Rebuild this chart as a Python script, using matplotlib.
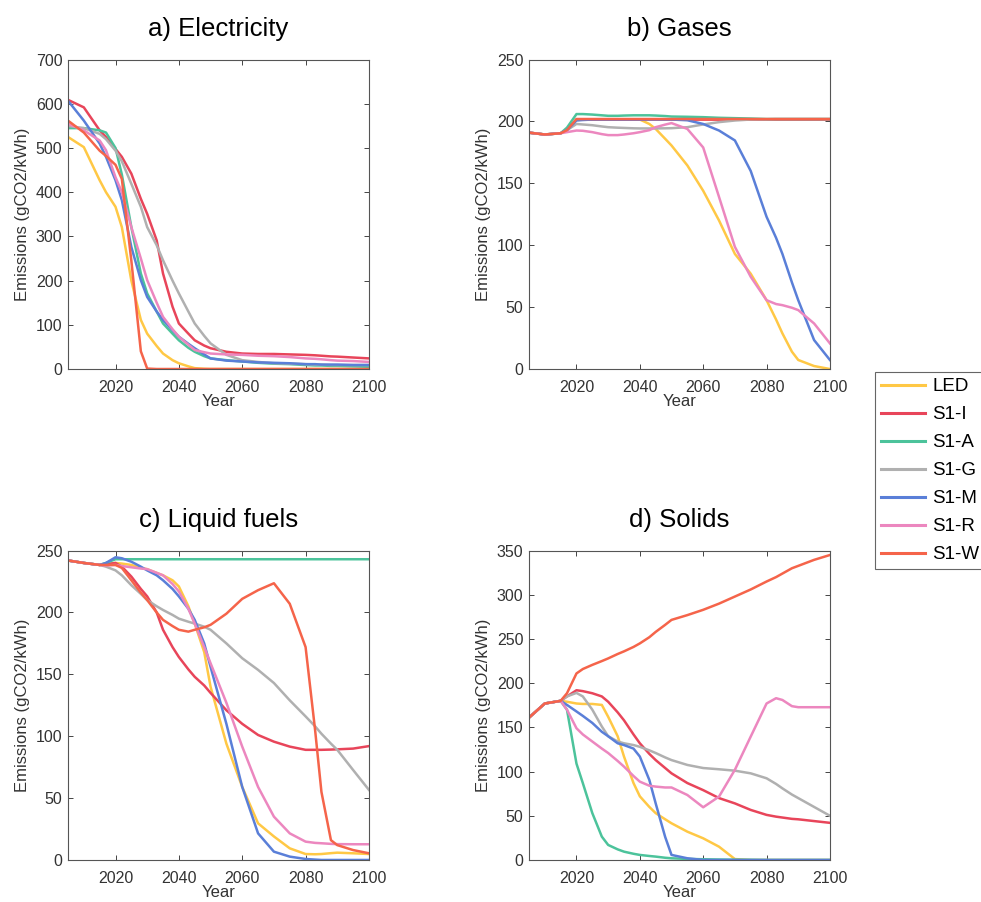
import matplotlib
matplotlib.use("Agg")
import matplotlib.pyplot as plt

plt.rcParams['font.family'] = ['Liberation Sans', 'DejaVu Sans']

# years shared by every series
years = [2005, 2010, 2015, 2017, 2020, 2022, 2025, 2028, 2030, 2033, 2035, 2038,
         2040, 2043, 2045, 2048, 2050, 2055, 2060, 2065, 2070, 2075, 2080, 2083,
         2085, 2088, 2090, 2095, 2100]

scenarios = ["LED", "S1-I", "S1-A", "S1-G", "S1-M", "S1-R", "S1-W"]
colors = ["#FFC845", "#E8455A", "#4CC39B", "#B0B0B0", "#5A7FD8", "#EC87BF", "#F5644A"]

# === a) Electricity ===
elec_led = [525, 502, 427, 400, 367, 321, 200, 111, 80, 52, 35, 20, 13, 6, 2, 0.5, 0,
            0, 0, 0, 0, 0, 0, 0, 0, 0, 0, 0, 0]
elec_s1i = [609, 592, 540, 525, 498, 480, 442, 385, 351, 291, 216, 141, 103, 80, 65, 53,
            47, 39, 35, 34, 34, 33, 32, 31, 30, 28.5, 28, 26, 24]
elec_s1a = [545, 545, 540, 535, 500, 440, 321, 216, 171, 130, 103, 80, 65, 48, 39, 29,
            24, 20, 17, 14, 12, 11, 9, 8, 8, 7, 7, 6, 5]
elec_s1g = [550, 545, 532, 520, 494, 470, 419, 367, 321, 280, 246, 200, 171, 130, 103,
            75, 58, 32, 20, 16, 13, 12, 11, 10, 10, 9, 9, 9, 9]
elec_s1m = [607, 562, 510, 480, 427, 382, 276, 201, 163, 130, 111, 88, 73, 57, 47, 33,
            24, 19, 17, 15, 14, 13, 11, 11, 10, 10, 10, 9, 9]
elec_s1r = [555, 540, 517, 495, 434, 400, 321, 250, 201, 150, 118, 90, 73, 55, 43, 38,
            35, 33, 32, 30, 29, 27, 24, 23, 22, 20, 19, 18, 16]
elec_s1w = [562, 535, 494, 482, 462, 430, 245, 40, 1, 0, 0, 0, 0, 0, 0, 0, 0,
            0, 0, 0, 0, 0, 0, 0, 0, 0, 0, 0, 0]

# === b) Gases ===
gas_led = [191, 189.5, 190.5, 193, 201.6, 201.6, 201.6, 201.6, 201.6, 201.6, 201.6, 201.6,
           201.6, 198, 194, 186, 180.6, 164.5, 144, 120, 93, 77, 55.6, 40, 28.8, 14,
           7.3, 2.4, 0]
gas_s1i = [191, 189.5, 190.5, 193, 201.5, 201.5, 201.5, 201.5, 201.5, 201.5, 201.5, 201.5,
           201.5, 201.5, 201.5, 201.5, 201.5, 201.5, 201.5, 201.5, 201.5, 201.5, 201.5,
           201.5, 201.5, 201.5, 201.5, 201.5, 201.5]
gas_s1a = [191, 189.5, 190.5, 195, 206, 206, 205.6, 205, 204.6, 204.6, 204.8, 205, 205,
           205, 204.8, 204.4, 204, 203.8, 203.5, 203, 202.7, 202.4, 202, 202, 202, 202,
           202, 202, 202]
gas_s1g = [191, 189.5, 190.5, 193, 198, 197.6, 197, 196, 195.4, 195, 194.8, 194.5, 194.4,
           194.4, 194.4, 194.5, 194.6, 195.4, 197.6, 199.5, 200.8, 201.6, 201.8, 202, 202,
           202, 202, 202, 202]
gas_s1m = [191, 189.5, 190.5, 193, 200.8, 201.2, 201.6, 201.6, 201.6, 201.6, 201.6, 201.6,
           201.6, 201.6, 201.6, 201.6, 201.6, 201, 198, 192.7, 184.7, 160, 123, 106, 93,
           70, 55.6, 23.4, 7.3]
gas_s1r = [191, 189.5, 190.5, 191.4, 192.7, 192.5, 191.4, 189.8, 189, 189, 189.5, 190.5,
           191.4, 193, 195.4, 197.5, 198.7, 194, 179, 139, 98.7, 74.5, 55.6, 52.5, 51.6,
           49.5, 47.6, 36.8, 20.7]
gas_s1w = [191, 189.5, 190.5, 193, 202, 202, 202, 202, 202, 202, 202, 202, 202, 202, 202,
           202, 202, 202, 202, 202, 202, 202, 202, 202, 202, 202, 202, 202, 202]

# === c) Liquid fuels ===
liq_led = [242, 240, 238.4, 239, 240, 239.5, 238.4, 236, 235, 232, 230, 226, 221, 205,
           191, 168, 140, 94, 59, 29.6, 19, 9.4, 4.8, 4.6, 4.8, 5.5, 5.9, 5.4, 4.8]
liq_s1i = [242, 240, 238.4, 239, 240, 237, 229, 219, 213, 200, 186, 172, 164, 154, 148,
           141, 135, 121, 110, 101, 95.6, 91.6, 89, 89, 89, 89.2, 89.4, 90, 92]
liq_s1a = [242, 240, 238.4, 240, 243, 243, 243, 243, 243, 243, 243, 243, 243, 243, 243,
           243, 243, 243, 243, 243, 243, 243, 243, 243, 243, 243, 243, 243, 243]
liq_s1g = [242, 240, 238.4, 237, 234, 230, 222, 215, 210, 205, 202, 198, 195, 192.5, 191,
           188.5, 186, 175, 163, 153.6, 143, 129, 116, 108, 102, 94, 89, 72.7, 56.6]
liq_s1m = [242, 240, 238.4, 240, 244.6, 243.8, 241, 237, 234, 230, 226, 219, 213, 203,
           194, 175, 156, 110, 59, 21.5, 6.7, 2.7, 0.8, 0.3, 0, 0, 0, 0, 0]
liq_s1r = [242, 240, 238.4, 238, 238.4, 237.5, 236.5, 235.5, 235, 232, 230, 223, 217, 203,
           191, 172, 159, 127, 91.6, 59, 35, 21.5, 14.8, 13.8, 13.5, 13, 12.8, 12.7, 12.7]
liq_s1w = [242, 240, 238.4, 238.4, 238.4, 236, 226, 216, 210, 200, 194, 189, 186, 184.5,
           186, 188, 190, 199, 211, 218, 223.6, 207, 172, 105, 55, 16, 12, 8, 5.4]

# === d) Solids ===
sol_led = [161, 177, 180, 179, 177, 176.5, 176.5, 175.4, 162, 140, 117, 87, 72, 60, 53,
           46, 41.5, 32, 24.5, 15, 1, 0, 0, 0, 0, 0, 0, 0, 0]
sol_s1i = [161, 177, 180, 185, 192, 191, 188.6, 185, 179, 167, 158, 142, 132, 120, 113,
           104, 98, 87, 79, 70, 64, 56.6, 51, 49, 48, 46.5, 46, 44, 42]
sol_s1a = [161, 177, 180, 170, 109, 87, 53, 26.4, 17, 12, 9.4, 7, 5.7, 4.5, 3.8, 2.5,
           1.9, 1.2, 0.8, 0.5, 0.3, 0.2, 0, 0, 0, 0, 0, 0, 0]
sol_s1g = [161, 177, 180, 185, 189, 185, 170, 151, 140, 134, 132, 130, 128, 124, 121, 116,
           113, 107.5, 104, 102.6, 101, 98, 92.4, 86, 81, 74, 70, 60, 50]
sol_s1m = [161, 177, 180, 175.4, 168, 163, 155, 145, 140, 132, 130, 126, 117, 90.5, 64,
           26, 5.7, 1.9, 0, 0, 0, 0, 0, 0, 0, 0, 0, 0, 0]
sol_s1r = [161, 177, 180, 170, 149, 142, 134, 126, 121, 112, 105.6, 95, 88.6, 84, 83, 82,
           82, 73.5, 59.6, 71.7, 102, 139.6, 177, 183, 181, 174, 172.8, 172.8, 172.8]
sol_s1w = [161, 177, 180, 188.6, 211, 216, 220.7, 225, 228, 233, 236, 241, 245, 252, 258,
           266, 271.6, 277, 283, 290, 298, 306, 315, 320, 324, 330, 332.7, 339.5, 345]

panels = [
    ("a) Electricity", [elec_led, elec_s1i, elec_s1a, elec_s1g, elec_s1m, elec_s1r, elec_s1w],
     700, 100, [0.0693, 0.5909]),
    ("b) Gases", [gas_led, gas_s1i, gas_s1a, gas_s1g, gas_s1m, gas_s1r, gas_s1w],
     250, 50, [0.5392, 0.5909]),
    ("c) Liquid fuels", [liq_led, liq_s1i, liq_s1a, liq_s1g, liq_s1m, liq_s1r, liq_s1w],
     250, 50, [0.0693, 0.0466]),
    ("d) Solids", [sol_led, sol_s1i, sol_s1a, sol_s1g, sol_s1m, sol_s1r, sol_s1w],
     350, 50, [0.5392, 0.0466]),
]

fig = plt.figure(figsize=(9.81, 9.02), dpi=100)

for title, series, ymax, ystep, (left, bottom) in panels:
    ax = fig.add_axes([left, bottom, 0.3068, 0.3430])
    for vals, name, c in zip(series, scenarios, colors):
        ax.plot(years, vals, color=c, lw=1.8, label=name, solid_joinstyle="round")
    ax.set_xlim(2005, 2100)
    ax.set_ylim(0, ymax)
    ax.set_xticks([2020, 2040, 2060, 2080, 2100])
    ax.set_yticks(list(range(0, ymax + 1, ystep)))
    ax.tick_params(direction="in", top=True, right=True, length=3.5, width=0.7,
                   labelsize=11.5, labelcolor="#333333", color="#444444")
    ax.tick_params(axis="x", pad=8)
    ax.tick_params(axis="y", pad=4)
    for sp in ax.spines.values():
        sp.set_color("#555555")
        sp.set_linewidth(0.8)
    ax.set_title(title, fontsize=18.5, pad=17)
    ax.set_xlabel("Year", fontsize=12, color="#333333", labelpad=-1)
    ax.set_ylabel("Emissions (gCO2/kWh)", fontsize=12, color="#333333", labelpad=4)

handles, labels = ax.get_legend_handles_labels()
leg = fig.legend(handles, labels, loc="upper left", bbox_to_anchor=(875 / 981, 1 - 372 / 902),
                 borderaxespad=0, fontsize=13.5, handlelength=2.35, labelspacing=0.58,
                 borderpad=0.32, handletextpad=0.37, fancybox=False, framealpha=1)
leg.get_frame().set_edgecolor("#666666")
leg.get_frame().set_linewidth(0.8)
for line in leg.get_lines():
    line.set_linewidth(2.2)

fig.savefig("out.png", dpi=100)
